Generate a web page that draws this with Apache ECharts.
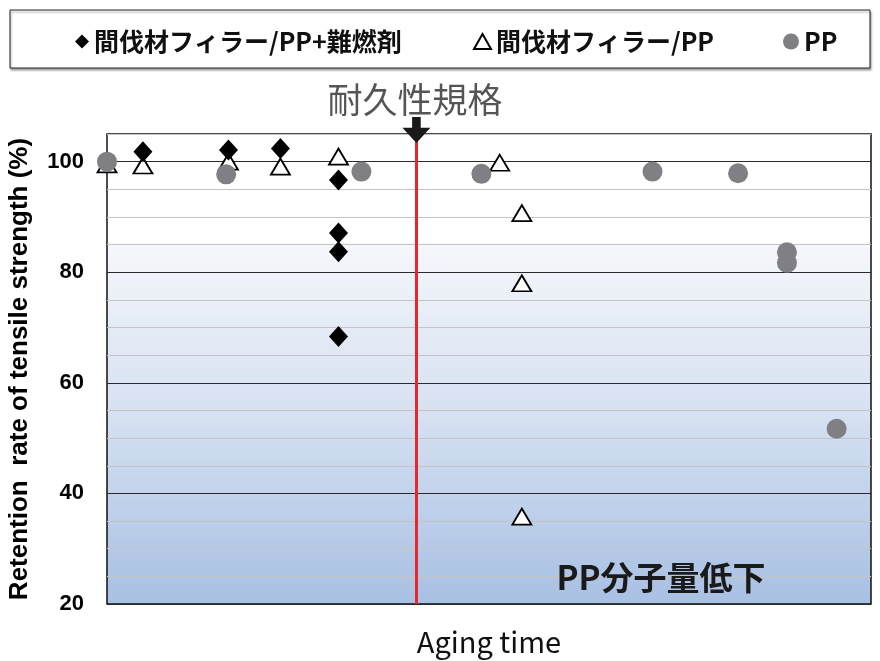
<!DOCTYPE html>
<html><head><meta charset="utf-8">
<script src="https://cdn.jsdelivr.net/npm/echarts@6/dist/echarts.min.js"></script>
<style>html,body{margin:0;padding:0;background:#fff}#c{width:880px;height:661px}</style>
</head><body><div id="c"></div>
<script>
// Series names
const seriesNames = ['間伐材フィラー/PP+難燃剤', '間伐材フィラー/PP', 'PP'];
// [aging time (relative units), retention %]
const flameRetardant = [[4.7,101.8],[15.9,102.1],[22.7,102.4],[30.3,96.7],[30.3,87.1],[30.3,83.7],[30.3,68.4]];
const fillerPP = [[0,99.5],[4.7,99.3],[15.9,100],[22.7,99.1],[30.3,100.9],[51.4,99.8],[54.3,90.7],[54.3,78.0],[54.3,35.8]];
const plainPP = [[0,100],[15.6,97.7],[33.3,98.2],[49.0,97.8],[71.4,98.2],[82.6,97.9],[89.0,83.6],[89.0,81.7],[95.5,51.7]];
const yTicks = [20,40,60,80,100];
const specLimitX = 40.5;
const specLabel = '耐久性規格';
const noteLabel = 'PP分子量低下';

const chart = echarts.init(document.getElementById('c'));
const legendText = {fontFamily:'"Noto Sans CJK JP"', fontWeight:'bold', fontSize:25, color:'#111'};
chart.setOption({
  animation:false,
  grid:{left:107,right:9,top:134,bottom:57,outerBoundsMode:'none',containLabel:false,show:true,borderColor:'#111',borderWidth:1.5,
    backgroundColor:{type:'linear',x:0,y:0,x2:0,y2:1,colorStops:[
      {offset:0,color:'#ffffff'},{offset:0.23,color:'#ffffff'},{offset:0.235,color:'#f6f7fb'},
      {offset:0.4,color:'#e6ecf6'},{offset:0.6,color:'#d6e1f1'},{offset:0.76,color:'#c2d3eb'},{offset:1,color:'#a8c0e3'}]}},
  legend:[
    {data:[seriesNames[0]],left:70,top:24,itemWidth:14,itemHeight:14,itemGap:4,textStyle:legendText},
    {data:[seriesNames[1]],left:468,top:24,itemWidth:17,itemHeight:15,textStyle:legendText},
    {data:[seriesNames[2]],left:778,top:24,itemWidth:16,itemHeight:16,textStyle:legendText}
  ],
  graphic:[
    {type:'rect',shape:{x:10,y:10,width:860,height:58},style:{fill:'#fff',stroke:'#222',lineWidth:1,shadowColor:'rgba(0,0,0,0.35)',shadowOffsetX:1,shadowOffsetY:2,shadowBlur:2},z:-1},
    {type:'text',x:415,y:100,style:{text:specLabel,fill:'#555',font:'35px "Noto Sans CJK JP"',textAlign:'center',textVerticalAlign:'middle'},z:10},
    {type:'text',x:661,y:577,style:{text:noteLabel,fill:'#1a1a1a',font:'bold 33px "Noto Sans CJK JP"',textAlign:'center',textVerticalAlign:'middle'},z:10}
  ],
  xAxis:{type:'value',min:0,max:100,axisLabel:{show:false},axisTick:{show:false},axisLine:{show:false},splitLine:{show:false},
    name:'Aging time',nameLocation:'middle',nameGap:23,nameTextStyle:{fontFamily:'"Noto Sans CJK JP"',fontSize:29,color:'#111'}},
  yAxis:{type:'value',min:20,max:105,interval:5,
    axisLine:{show:false},axisTick:{show:false},
    axisLabel:{formatter:v=>yTicks.includes(v)?String(v):'',fontFamily:'"Liberation Sans"',fontWeight:'bold',fontSize:22,color:'#000',margin:23},
    splitLine:{lineStyle:{color:['#2a2a2a','#c4c4c4','#c4c4c4','#c4c4c4'],width:1.2}},
    name:'Retention  rate of tensile strength (%)',nameLocation:'middle',nameRotate:90,nameGap:74,
    nameTextStyle:{fontFamily:'"Liberation Sans"',fontWeight:'bold',fontSize:26,color:'#000'}},
  series:[
    {name:seriesNames[1],type:'scatter',data:fillerPP,symbol:'triangle',symbolSize:[19,16],z:2,
      itemStyle:{color:'#fff',borderColor:'#000',borderWidth:1.8,opacity:1}},
    {name:seriesNames[0],type:'scatter',data:flameRetardant,symbol:'diamond',symbolSize:[19,21],z:3,
      itemStyle:{color:'#000',opacity:1},
      markLine:{silent:true,symbol:'none',label:{show:false},lineStyle:{color:'#e8262c',width:3,type:'solid'},data:[{xAxis:specLimitX}]},
      markPoint:{silent:true,symbol:'path://M9,0 L17,0 L17,10 L26,10 L13,24 L0,10 L9,10 Z',symbolSize:[28,26],symbolKeepAspect:false,symbolOffset:[0,-4],
        itemStyle:{color:'#1a1a1a',opacity:1},label:{show:false},data:[{coord:[specLimitX,105]}]}},
    {name:seriesNames[2],type:'scatter',data:plainPP,symbol:'circle',symbolSize:20,z:4,
      itemStyle:{color:'#808084',opacity:1}}
  ]
});
</script></body></html>
